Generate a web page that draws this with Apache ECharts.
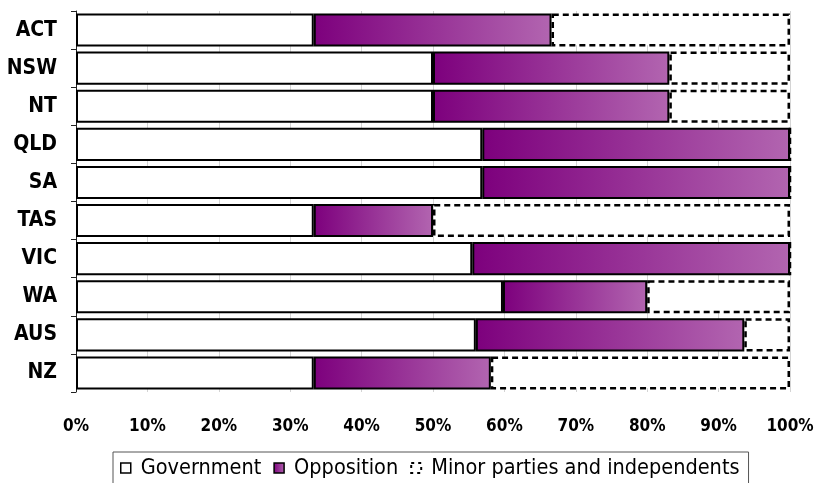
<!DOCTYPE html>
<html>
<head>
<meta charset="utf-8">
<script src="https://cdn.jsdelivr.net/npm/echarts@6/dist/echarts.min.js"></script>
<style>
html,body{margin:0;padding:0;background:#fff;}
#chart{width:818px;height:483px;}
</style>
</head>
<body>
<div id="chart"></div>
<script>
const categories = ['ACT','NSW','NT','QLD','SA','TAS','VIC','WA','AUS','NZ'];
const government = [33.3, 50.0, 50.0, 56.9, 56.9, 33.3, 55.5, 59.8, 56.0, 33.3];
const opposition = [33.3, 33.1, 33.1, 43.1, 43.1, 16.7, 44.5, 20.2, 37.6, 24.8];
const minor      = [33.4, 16.9, 16.9, 0, 0, 50.0, 0, 20.0, 6.4, 41.9];
const xTicks = [0,10,20,30,40,50,60,70,80,90,100];

const FONT = "'DejaVu Sans Condensed', 'DejaVu Sans', sans-serif";
const chart = echarts.init(document.getElementById('chart'), null, {renderer:'canvas'});
const oppGrad = new echarts.graphic.LinearGradient(0,0,1,0,[
  {offset:0,color:'#7d007d'},{offset:1,color:'#b265b0'}
]);
chart.setOption({
  animation:false,
  backgroundColor:'#fff',
  grid:{left:76,right:28,top:11,bottom:91,containLabel:false},
  xAxis:{
    type:'value',min:0,max:100,interval:10,
    axisLine:{show:false},axisTick:{show:false},
    splitLine:{show:true,lineStyle:{color:'#d4d4d4',width:1}},
    axisLabel:{margin:26,fontFamily:FONT,fontWeight:'bold',fontSize:17,color:'#000',
      formatter:v=> xTicks.includes(v) ? v+'%' : ''}
  },
  yAxis:{
    type:'category',data:categories,inverse:true,
    axisLine:{show:true,lineStyle:{color:'#222',width:1}},
    axisTick:{show:true,length:5,lineStyle:{color:'#222'}},
    axisLabel:{margin:19,fontFamily:FONT,fontWeight:'bold',fontSize:21,color:'#000'}
  },
  legend:{
    left:113,top:452,
    padding:[5,9,10,7],
    borderColor:'#555',borderWidth:1,
    itemWidth:10,itemHeight:10,itemGap:12,
    icon:'rect',
    textStyle:{fontFamily:FONT,fontSize:21.5,color:'#000',padding:[0,0,0,5]},
    data:[
      {name:'Government',itemStyle:{borderColor:'#000',borderWidth:1.5}},
      {name:'Opposition',itemStyle:{borderColor:'#000',borderWidth:1.5}},
      {name:'Minor parties and independents',itemStyle:{borderColor:'#000',borderWidth:2,borderType:[3,4]}}
    ]
  },
  series:[
    {name:'Government',type:'bar',stack:'t',data:government,barCategoryGap:'13%',
     itemStyle:{color:'#fff',borderColor:'#000',borderWidth:2}},
    {name:'Opposition',type:'bar',stack:'t',data:opposition,
     itemStyle:{color:oppGrad,borderColor:'#000',borderWidth:2}},
    {name:'Minor parties and independents',type:'bar',stack:'t',data:minor,
     itemStyle:{color:'#fff',borderColor:'#000',borderWidth:2.5,borderType:[6,4]}}
  ]
});
</script>
</body>
</html>
